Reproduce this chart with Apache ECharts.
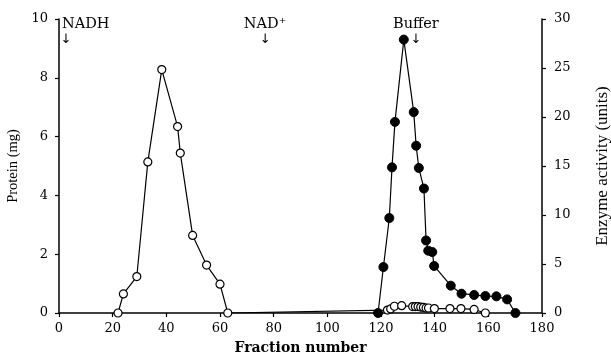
<!DOCTYPE html>
<html>
<head>
<meta charset="utf-8">
<script src="https://cdn.jsdelivr.net/npm/echarts@6/dist/echarts.min.js"></script>
<style>
html,body{margin:0;padding:0;background:#fff;}
#c{width:611px;height:362px;}
</style>
</head>
<body>
<div id="c"></div>
<script>
// Protein (mg), open circles
const proteinX = [22.0, 24.0, 29.0, 33.1, 38.3, 44.2, 45.2, 49.8, 55.0, 60.0, 62.9];
const proteinY = [0, 0.65, 1.24, 5.14, 8.28, 6.34, 5.44, 2.64, 1.63, 0.98, 0];
// Protein (mg) in the second peak, small open circles
const protein2X = [122.4, 123.6, 125.0, 127.7, 131.8, 132.8, 133.8, 134.8, 135.8, 136.8, 137.7, 139.9, 145.7, 149.8, 154.7, 158.9];
const protein2Y = [0.1, 0.14, 0.23, 0.25, 0.22, 0.22, 0.22, 0.2, 0.19, 0.17, 0.17, 0.15, 0.15, 0.15, 0.12, 0];
// Enzyme activity (units), filled circles
const enzymeX = [118.9, 120.9, 123.1, 124.1, 125.2, 128.5, 132.2, 133.1, 134.1, 136.0, 136.8, 137.6, 139.1, 139.8, 146.0, 150.0, 154.7, 158.9, 163.0, 167.0, 170.1];
const enzymeY = [0, 4.69, 9.69, 14.86, 19.5, 27.9, 20.5, 17.07, 14.8, 12.7, 7.4, 6.36, 6.22, 4.8, 2.79, 1.97, 1.84, 1.73, 1.70, 1.39, 0];
// Annotations: label and fraction where its arrow points
const annoText = ['NADH', 'NAD\u207A', 'Buffer'];
const annoX = [2.6, 76.8, 133];
const xTicks = {min: 0, max: 180, interval: 20};
const yLeftTicks = {min: 0, max: 10, interval: 2};
const yRightTicks = {min: 0, max: 30, interval: 5};

const zip = (a, b) => a.map((v, i) => [v, b[i]]);
const font = 'DejaVu Serif';
const chart = echarts.init(document.getElementById('c'), null, {renderer: 'canvas'});
const axisCommon = {
  axisLine: {show: true, lineStyle: {color: '#000', width: 1.5}},
  axisTick: {show: true, length: 4, lineStyle: {color: '#000', width: 1.2}},
  splitLine: {show: false}
};
chart.setOption({
  animation: false,
  backgroundColor: '#fff',
  grid: {left: 59, right: 69, top: 19, bottom: 49, containLabel: false, outerBoundsMode: 'none'},
  xAxis: Object.assign({
    type: 'value', min: xTicks.min, max: xTicks.max, interval: xTicks.interval,
    name: 'Fraction number', nameLocation: 'middle', nameGap: 28,
    nameTextStyle: {color: '#000', fontFamily: 'DejaVu Serif', fontWeight: 'bold', fontSize: 14},
    axisLabel: {color: '#000', fontFamily: font, fontSize: 13, margin: 9}
  }, axisCommon),
  yAxis: [
    Object.assign({
      type: 'value', position: 'left', min: yLeftTicks.min, max: yLeftTicks.max, interval: yLeftTicks.interval,
      name: 'Protein (mg)', nameLocation: 'middle', nameGap: 33, nameRotate: 90,
      nameTextStyle: {color: '#000', fontFamily: 'Liberation Serif', fontSize: 14.5},
      axisLabel: {color: '#000', fontFamily: font, fontSize: 13, margin: 11}
    }, axisCommon),
    Object.assign({
      type: 'value', position: 'right', min: yRightTicks.min, max: yRightTicks.max, interval: yRightTicks.interval,
      name: 'Enzyme activity (units)', nameLocation: 'middle', nameGap: 52, nameRotate: 90,
      nameTextStyle: {color: '#000', fontFamily: 'Liberation Serif', fontSize: 17},
      axisLabel: {color: '#000', fontFamily: font, fontSize: 13, margin: 12}
    }, axisCommon)
  ],
  series: [
    {type: 'line', yAxisIndex: 0, data: zip(proteinX, proteinY).concat(zip(protein2X, protein2Y)),
     symbol: 'circle', symbolSize: 8, showAllSymbol: true,
     itemStyle: {color: '#fff', borderColor: '#000', borderWidth: 1.2},
     lineStyle: {color: '#000', width: 1.2}, z: 3},
    {type: 'line', yAxisIndex: 1, data: zip(enzymeX, enzymeY),
     symbol: 'circle', symbolSize: 9, showAllSymbol: true,
     itemStyle: {color: '#000', borderColor: '#000', borderWidth: 1},
     lineStyle: {color: '#000', width: 1.2}, z: 4}
  ]
});
const g = [];
annoText.forEach((t, i) => {
  const px = chart.convertToPixel({xAxisIndex: 0}, annoX[i]);
  g.push({type: 'text', x: px, y: 33, style: {text: '\u2193', fill: '#000', font: '13px "DejaVu Sans"', align: 'center', verticalAlign: 'top'}});
  const ax = i === 0 ? px - 4 : px;
  g.push({type: 'text', x: ax, y: 17, style: {text: t, fill: '#000', font: '14.5px "DejaVu Serif"', align: i === 0 ? 'left' : 'center', verticalAlign: 'top'}});
});
chart.setOption({graphic: g});
</script>
</body>
</html>
